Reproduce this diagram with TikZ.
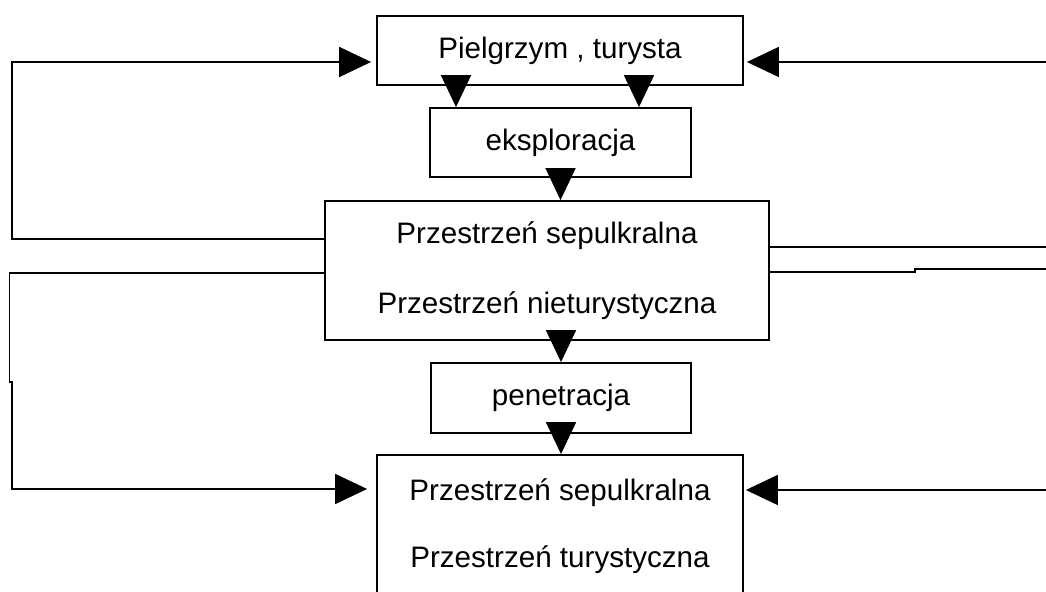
\documentclass[tikz,border=0pt]{standalone}
\usepackage{fontspec}
\setmainfont{Liberation Sans}
\usetikzlibrary{arrows.meta}

\begin{document}
\begin{tikzpicture}[x=0.5pt, y=-0.5pt, line width=0.9pt,
  box/.style={draw=black, font=\fontsize{14.8}{18}\selectfont},
  arr/.style={-{Triangle[length=16pt,width=15pt]}}]

   \useasboundingbox (0,0) rectangle (1046,592);
   \clip (0,0) rectangle (1046,592);

   \node[box, minimum width=183pt, minimum height=34.5pt] (pilgrim) at (560,50.5) {Pielgrzym , turysta};
   \node[box, minimum width=130.5pt, minimum height=34.5pt] (explore) at (560.5,142.5) {eksploracja};
   \node[box, minimum width=222pt, minimum height=69.5pt, align=center, font=\fontsize{14.8}{35}\selectfont] (space1) at (547,270.5) {Przestrzeń sepulkralna\\Przestrzeń nieturystyczna};
   \node[box, minimum width=130pt, minimum height=35pt] (penetrate) at (561,398) {penetracja};
   \node[box, minimum width=183pt, minimum height=71.5pt, align=center, font=\fontsize{14.8}{33.5}\selectfont] (space2) at (560,526.5) {Przestrzeń sepulkralna\\Przestrzeń turystyczna};

   \draw[arr] (pilgrim.south -| 456,0) -- (explore.north -| 456,0);
   \draw[arr] (pilgrim.south -| 639,0) -- (explore.north -| 639,0);
   \draw[arr] (explore.south) -- (explore.south |- space1.north);
   \draw[arr] (penetrate.north |- space1.south) -- (penetrate.north);
   \draw[arr] (penetrate.south) -- (penetrate.south |- space2.north);

   % left side
   \draw[arr, shorten >=2.5pt] (space1.west |- 0,239) -| (12,62) -- (pilgrim.west |- 0,62);
   \draw[arr, shorten >=4.5pt] (space1.west |- 0,273) -- (9.5,273) -- (9.5,382) -- (12,382) -- (12,489) -- (space2.west |- 0,489);

   % right side, running off the page
   \coordinate (edge1) at (1046,62);
   \coordinate (edge2) at (1046,247);
   \coordinate (edge3) at (1046,269);
   \coordinate (edge4) at (1046,490);
   \draw[arr, shorten >=1.5pt] (edge1) -- (pilgrim.east |- edge1);
   \draw (space1.east |- edge2) -- (edge2);
   \draw (space1.east |- 0,272) -- (915,272) -- (915,269) -- (edge3);
   \draw[arr, shorten >=1pt] (edge4) -- (space2.east |- edge4);

\end{tikzpicture}
\end{document}
